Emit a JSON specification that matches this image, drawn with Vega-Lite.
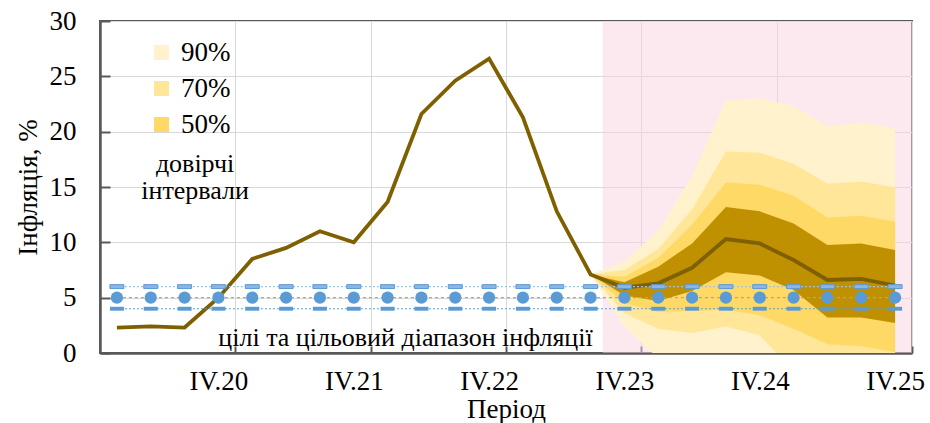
{
  "$schema": "https://vega.github.io/schema/vega-lite/v6.json",
  "width": 812,
  "height": 332,
  "autosize": "none",
  "padding": {"left": 100, "top": 21, "right": 18, "bottom": 70},
  "config": {
    "font": "Liberation Serif",
    "view": {"stroke": "#595959", "strokeWidth": 2},
    "axis": {
      "labelFont": "Liberation Serif", "titleFont": "Liberation Serif",
      "labelFontSize": 27, "titleFontSize": 27,
      "labelColor": "#000000", "titleColor": "#000000", "titleFontWeight": "normal",
      "gridColor": "#D9D9D9", "gridWidth": 1,
      "domainColor": "#595959", "domainWidth": 2.5,
      "tickColor": "#595959", "tickWidth": 2
    }
  },
  "datasets": {
    "shade": [{"start": 15.36, "end": 24.5}],
    "hist": [
      {"t": 1, "v": 2.3}, {"t": 2, "v": 2.4}, {"t": 3, "v": 2.3}, {"t": 4, "v": 5.0},
      {"t": 5, "v": 8.5}, {"t": 6, "v": 9.5}, {"t": 7, "v": 11.0}, {"t": 8, "v": 10.0},
      {"t": 9, "v": 13.65}, {"t": 10, "v": 21.6}, {"t": 11, "v": 24.6}, {"t": 12, "v": 26.6},
      {"t": 13, "v": 21.3}, {"t": 14, "v": 12.8}, {"t": 15, "v": 7.1}, {"t": 16, "v": 5.9},
      {"t": 17, "v": 6.3}, {"t": 18, "v": 7.7}, {"t": 19, "v": 10.3}, {"t": 20, "v": 9.9},
      {"t": 21, "v": 8.4}, {"t": 22, "v": 6.6}, {"t": 23, "v": 6.7}, {"t": 24, "v": 6.1}
    ],
    "bands": [
      {"band": "90%", "t": 15, "lo": 7.1, "hi": 7.1},
      {"band": "90%", "t": 16, "lo": 2.4, "hi": 8.3},
      {"band": "90%", "t": 17, "lo": -0.5, "hi": 11.0},
      {"band": "90%", "t": 18, "lo": -1, "hi": 16.0},
      {"band": "90%", "t": 19, "lo": -1, "hi": 22.8},
      {"band": "90%", "t": 20, "lo": -1.5, "hi": 23.0},
      {"band": "90%", "t": 21, "lo": -2, "hi": 22.3},
      {"band": "90%", "t": 22, "lo": -3, "hi": 20.5},
      {"band": "90%", "t": 23, "lo": -3, "hi": 20.8},
      {"band": "90%", "t": 24, "lo": -3, "hi": 20.3},
      {"band": "70%", "t": 15, "lo": 7.1, "hi": 7.1},
      {"band": "70%", "t": 16, "lo": 3.6, "hi": 7.5},
      {"band": "70%", "t": 17, "lo": 2.2, "hi": 9.4},
      {"band": "70%", "t": 18, "lo": 1.8, "hi": 13.0},
      {"band": "70%", "t": 19, "lo": 2.4, "hi": 18.2},
      {"band": "70%", "t": 20, "lo": 1.6, "hi": 18.1},
      {"band": "70%", "t": 21, "lo": -1.6, "hi": 17.1},
      {"band": "70%", "t": 22, "lo": -2, "hi": 15.3},
      {"band": "70%", "t": 23, "lo": -2, "hi": 15.5},
      {"band": "70%", "t": 24, "lo": -2, "hi": 14.95},
      {"band": "50%", "t": 15, "lo": 7.1, "hi": 7.1},
      {"band": "50%", "t": 16, "lo": 4.5, "hi": 6.9},
      {"band": "50%", "t": 17, "lo": 3.7, "hi": 8.6},
      {"band": "50%", "t": 18, "lo": 3.8, "hi": 11.6},
      {"band": "50%", "t": 19, "lo": 3.9, "hi": 15.4},
      {"band": "50%", "t": 20, "lo": 3.4, "hi": 15.2},
      {"band": "50%", "t": 21, "lo": 2.2, "hi": 14.2},
      {"band": "50%", "t": 22, "lo": 0.8, "hi": 12.25},
      {"band": "50%", "t": 23, "lo": 0.6, "hi": 12.4},
      {"band": "50%", "t": 24, "lo": 0.1, "hi": 11.85},
      {"band": "30%", "t": 15, "lo": 7.1, "hi": 7.1},
      {"band": "30%", "t": 16, "lo": 5.2, "hi": 6.4},
      {"band": "30%", "t": 17, "lo": 4.7, "hi": 7.8},
      {"band": "30%", "t": 18, "lo": 5.6, "hi": 9.9},
      {"band": "30%", "t": 19, "lo": 7.3, "hi": 13.2},
      {"band": "30%", "t": 20, "lo": 7.0, "hi": 12.8},
      {"band": "30%", "t": 21, "lo": 5.7, "hi": 11.7},
      {"band": "30%", "t": 22, "lo": 3.2, "hi": 9.75},
      {"band": "30%", "t": 23, "lo": 3.2, "hi": 9.9},
      {"band": "30%", "t": 24, "lo": 2.7, "hi": 9.3}
    ],
    "target": [
      {"t": 1, "lo": 4, "mid": 5, "hi": 6}, {"t": 2, "lo": 4, "mid": 5, "hi": 6},
      {"t": 3, "lo": 4, "mid": 5, "hi": 6}, {"t": 4, "lo": 4, "mid": 5, "hi": 6},
      {"t": 5, "lo": 4, "mid": 5, "hi": 6}, {"t": 6, "lo": 4, "mid": 5, "hi": 6},
      {"t": 7, "lo": 4, "mid": 5, "hi": 6}, {"t": 8, "lo": 4, "mid": 5, "hi": 6},
      {"t": 9, "lo": 4, "mid": 5, "hi": 6}, {"t": 10, "lo": 4, "mid": 5, "hi": 6},
      {"t": 11, "lo": 4, "mid": 5, "hi": 6}, {"t": 12, "lo": 4, "mid": 5, "hi": 6},
      {"t": 13, "lo": 4, "mid": 5, "hi": 6}, {"t": 14, "lo": 4, "mid": 5, "hi": 6},
      {"t": 15, "lo": 4, "mid": 5, "hi": 6}, {"t": 16, "lo": 4, "mid": 5, "hi": 6},
      {"t": 17, "lo": 4, "mid": 5, "hi": 6}, {"t": 18, "lo": 4, "mid": 5, "hi": 6},
      {"t": 19, "lo": 4, "mid": 5, "hi": 6}, {"t": 20, "lo": 4, "mid": 5, "hi": 6},
      {"t": 21, "lo": 4, "mid": 5, "hi": 6}, {"t": 22, "lo": 4, "mid": 5, "hi": 6},
      {"t": 23, "lo": 4, "mid": 5, "hi": 6}, {"t": 24, "lo": 4, "mid": 5, "hi": 6}
    ],
    "notes": [
      {"t": 3.31, "v": 17.1, "label": "довірчі"},
      {"t": 3.31, "v": 14.6, "label": "інтервали"},
      {"t": 9.53, "v": 1.35, "label": "цілі та цільовий діапазон інфляції"}
    ]
  },
  "layer": [
    {
      "data": {"name": "shade"},
      "mark": {"type": "rect", "color": "#F7D3DF", "opacity": 0.5},
      "encoding": {
        "x": {
          "field": "start", "type": "quantitative",
          "scale": {"domain": [0.5, 24.5], "nice": false, "zero": false},
          "axis": {
            "values": [4.5, 8.5, 12.5, 16.5, 20.5, 24.5],
            "grid": true, "tickSize": -7, "labelOffset": -16.9,
            "labelExpr": "'IV.' + (19 + (datum.value - 0.5) / 4)",
            "labelPadding": 22, "labelFlush": false, "labelOverlap": false, "labelBound": false,
            "title": "Період", "titlePadding": 2
          }
        },
        "x2": {"field": "end"},
        "y": {
          "datum": 0, "type": "quantitative",
          "scale": {"domain": [0, 30], "nice": false, "zero": true},
          "axis": {
            "values": [0, 5, 10, 15, 20, 25, 30],
            "grid": true, "tickSize": -10, "labelPadding": 34,
            "title": "Інфляція, %", "titlePadding": 7
          }
        },
        "y2": {"datum": 30}
      }
    },
    {
      "data": {"name": "bands"},
      "mark": {"type": "area", "clip": true, "opacity": 1},
      "encoding": {
        "x": {"field": "t", "type": "quantitative"},
        "y": {"field": "lo", "type": "quantitative", "stack": null},
        "y2": {"field": "hi"},
        "color": {
          "field": "band", "type": "nominal",
          "scale": {"domain": ["90%", "70%", "50%", "30%"], "range": ["#FFF2CC", "#FFE699", "#FFD966", "#BF9000"]},
          "legend": {
            "orient": "none", "legendX": 48, "legendY": 18, "title": null,
            "values": ["90%", "70%", "50%"],
            "symbolType": "square", "symbolSize": 225, "symbolStrokeWidth": 0, "symbolOpacity": 1,
            "labelFontSize": 27, "labelFont": "Liberation Serif", "labelColor": "#000000",
            "rowPadding": 8, "labelOffset": 6, "padding": 0
          }
        }
      }
    },
    {
      "data": {"name": "hist"},
      "mark": {"type": "line", "color": "#7F6000", "strokeWidth": 3.8},
      "encoding": {
        "x": {"field": "t", "type": "quantitative"},
        "y": {"field": "v", "type": "quantitative"}
      }
    },
    {
      "data": {"name": "target"},
      "mark": {"type": "line", "color": "#9DC3E6", "strokeWidth": 1.2, "strokeDash": [2, 2]},
      "encoding": {
        "x": {"field": "t", "type": "quantitative"},
        "y": {"field": "hi", "type": "quantitative"}
      }
    },
    {
      "data": {"name": "target"},
      "mark": {"type": "line", "color": "#A6A6A6", "strokeWidth": 1.2, "strokeDash": [3, 3]},
      "encoding": {
        "x": {"field": "t", "type": "quantitative"},
        "y": {"field": "mid", "type": "quantitative"}
      }
    },
    {
      "data": {"name": "target"},
      "mark": {"type": "line", "color": "#5B9BD5", "strokeWidth": 1.2, "strokeDash": [2, 2]},
      "encoding": {
        "x": {"field": "t", "type": "quantitative"},
        "y": {"field": "lo", "type": "quantitative"}
      }
    },
    {
      "data": {"name": "target"},
      "mark": {"type": "point", "filled": true, "color": "#5B9BD5", "size": 150, "opacity": 1},
      "encoding": {
        "x": {"field": "t", "type": "quantitative"},
        "y": {"field": "mid", "type": "quantitative"}
      }
    },
    {
      "data": {"name": "target"},
      "mark": {"type": "point", "shape": "M-1,-0.28H1V0.28H-1Z", "filled": true, "fill": "#8DB4E2", "stroke": "#5B9BD5", "strokeWidth": 1, "size": 196, "opacity": 1},
      "encoding": {
        "x": {"field": "t", "type": "quantitative"},
        "y": {"field": "hi", "type": "quantitative"}
      }
    },
    {
      "data": {"name": "target"},
      "mark": {"type": "point", "shape": "M-1,-0.28H1V0.28H-1Z", "filled": true, "fill": "#5B9BD5", "strokeWidth": 0, "size": 196, "opacity": 1},
      "encoding": {
        "x": {"field": "t", "type": "quantitative"},
        "y": {"field": "lo", "type": "quantitative"}
      }
    },
    {
      "data": {"name": "notes"},
      "mark": {"type": "text", "fontSize": 26, "color": "#000000", "align": "center", "baseline": "middle"},
      "encoding": {
        "x": {"field": "t", "type": "quantitative"},
        "y": {"field": "v", "type": "quantitative"},
        "text": {"field": "label"}
      }
    }
  ]
}
